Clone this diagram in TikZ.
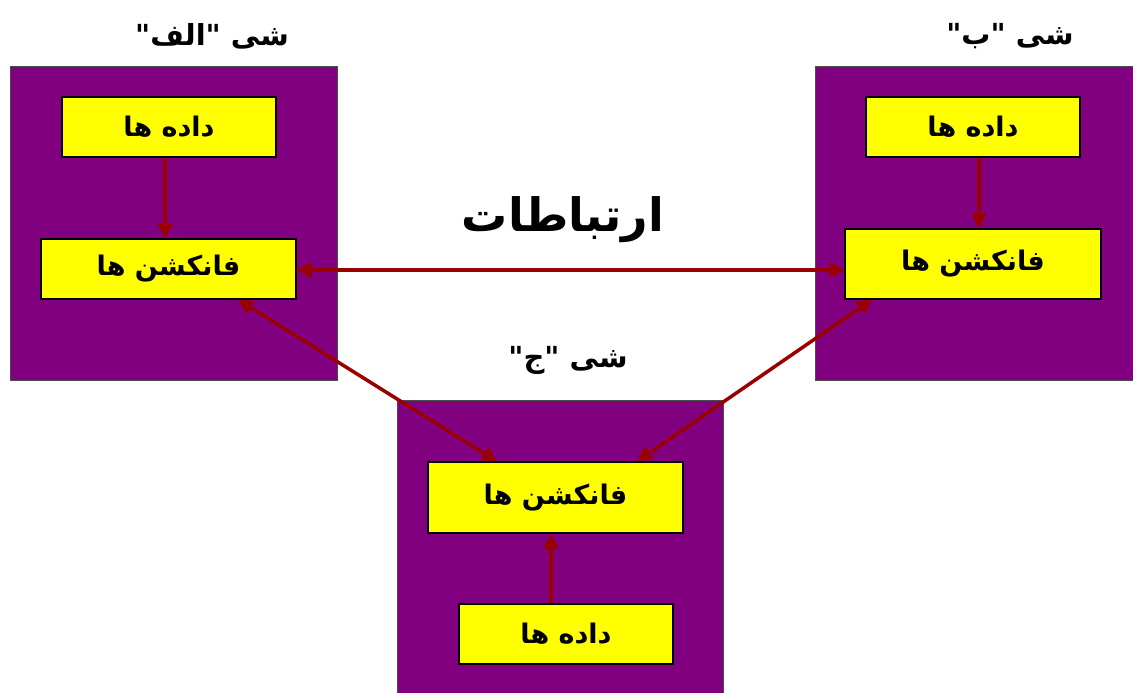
\documentclass[tikz,border=0pt]{standalone}
\usepackage{fontspec}
\usetikzlibrary{arrows.meta}
\newfontfamily\arabicfont[Script=Arabic]{DejaVu Sans}
\TeXXeTstate=1
\definecolor{objpurple}{HTML}{800080}
\definecolor{boxyellow}{HTML}{FFFF00}
\definecolor{arrowred}{HTML}{9A0000}
\begin{document}
\begin{tikzpicture}[x=1pt,y=-1pt,
  objbox/.style={fill=objpurple,draw=black!70,line width=1pt},
  itembox/.style={fill=boxyellow,draw=black,line width=1.2pt,font=\arabicfont\bfseries\fontsize{27}{32}\selectfont},
  title/.style={font=\arabicfont\bfseries\fontsize{29}{34}\selectfont},
  link/.style={draw=arrowred,line width=3.5pt,-{Triangle[length=15pt,width=15pt]}},
  dlink/.style={draw=arrowred,line width=3.5pt,{Triangle[length=15pt,width=15pt]}-{Triangle[length=15pt,width=15pt]}}]
\useasboundingbox (0,0) rectangle (1133,693);
\clip (0,0) rectangle (1133,693);
\fill[white] (0,0) rectangle (1133,693);
% object boxes
\path[objbox] (10,67) rectangle (337,380);
\path[objbox] (815,67) rectangle (1140,380);
\path[objbox] (397,400) rectangle (723,700);
% titles
\node[title] (tA) at (212,36) {\beginR شی "الف"\endR};
\node[title] (tB) at (1010,36) {\beginR شی "ب"\endR};
\node[title] (tC) at (568,360) {\beginR شی "ج"\endR};
\node[font=\arabicfont\bfseries\fontsize{46}{52}\selectfont] (rel) at (563,220) {\beginR ارتباطات\endR};
% items A
\node[itembox,minimum width=214pt,minimum height=60pt] (dA) at (169,127) {\beginR داده ها\endR};
\node[itembox,minimum width=255pt,minimum height=60pt] (fA) at (168.5,269) {\beginR فانکشن ها\endR};
% items B
\node[itembox,minimum width=214pt,minimum height=60pt] (dB) at (973,127) {\beginR داده ها\endR};
\node[itembox,minimum width=256pt,minimum height=70pt] (fB) at (973,264) {\beginR فانکشن ها\endR};
% items C
\node[itembox,minimum width=255pt,minimum height=71pt] (fC) at (555.5,497.5) {\beginR فانکشن ها\endR};
\node[itembox,minimum width=214pt,minimum height=60pt] (dC) at (566,634) {\beginR داده ها\endR};
% connectors
\draw[link] (dA.south -| 165,0) -- (fA.north -| 165,0);
\draw[link] (dB.south -| 979,0) -- (fB.north -| 979,0);
\draw[link] (dC.north -| 551,0) -- (fC.south -| 551,0);
\draw[dlink] (fA.east |- 0,270) -- (fB.west |- 0,270);
\draw[dlink] (fA.south -| 238,0) -- (fC.north -| 497,0);
\draw[dlink] (fB.south -| 872,0) -- (fC.north -| 637,0);
\end{tikzpicture}
\end{document}
